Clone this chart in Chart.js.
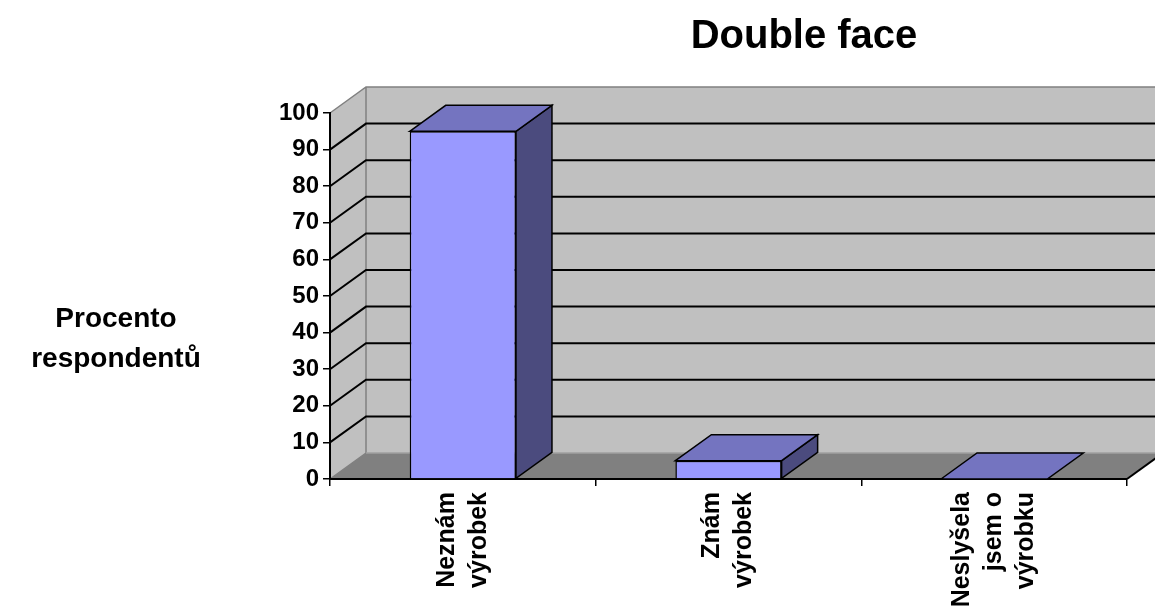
<!DOCTYPE html>
<html><head><meta charset="utf-8">
<script src="https://cdn.jsdelivr.net/npm/chart.js@4/dist/chart.umd.min.js"></script>
<style>html,body{margin:0;padding:0;background:#fff}canvas{display:block}</style>
</head><body>
<canvas id="c" width="1155" height="608"></canvas>
<script>
// ---- data ----
const TITLE = 'Double face';
const Y_TITLE = ['Procento', 'respondentů'];
const categories = [['Neznám', 'výrobek'], ['Znám', 'výrobek'], ['Neslyšela', 'jsem o', 'výrobku']];
const values = [95, 5, 0];
const Y_MIN = 0, Y_MAX = 100, Y_STEP = 10;

// ---- style ----
const FONT = '"Liberation Sans", Arial, Helvetica, sans-serif';
const DX = 36, DY = -26;            // 3D depth offset
const WALL = '#c0c0c0', FLOOR = '#808080', EDGE = '#808080';
const FRONT = '#9999ff', TOP = '#7474c0', SIDE = '#4b4b7e';

const threeD = {
  id: 'threeD',
  beforeDraw(chart) {
    const ctx = chart.ctx, a = chart.chartArea, ys = chart.scales.y;
    const L = a.left, R = a.right, T = a.top, B = a.bottom;
    ctx.save();
    ctx.fillStyle = WALL;
    ctx.fillRect(L + DX, T + DY, (R - L), (B - T));
    ctx.beginPath();
    ctx.moveTo(L, T); ctx.lineTo(L + DX, T + DY); ctx.lineTo(L + DX, B + DY); ctx.lineTo(L, B); ctx.closePath();
    ctx.fill();
    ctx.fillStyle = FLOOR;
    ctx.beginPath();
    ctx.moveTo(L, B); ctx.lineTo(R, B); ctx.lineTo(R + DX, B + DY); ctx.lineTo(L + DX, B + DY); ctx.closePath();
    ctx.fill();
    ctx.strokeStyle = EDGE; ctx.lineWidth = 1.5;
    ctx.beginPath();
    ctx.moveTo(L, T); ctx.lineTo(L + DX, T + DY); ctx.lineTo(R + DX + 10, T + DY);
    ctx.moveTo(L + DX, T + DY); ctx.lineTo(L + DX, B + DY);
    ctx.moveTo(L, B); ctx.lineTo(L + DX, B + DY);
    ctx.stroke();
    ctx.strokeStyle = '#a0a0a0';
    ctx.beginPath(); ctx.moveTo(L + DX, B + DY); ctx.lineTo(R + DX + 10, B + DY); ctx.stroke();
    ctx.strokeStyle = '#000'; ctx.lineWidth = 2;
    ys.ticks.forEach(t => {
      if (t.value <= Y_MIN || t.value >= Y_MAX) return;
      const y = ys.getPixelForValue(t.value);
      ctx.beginPath();
      ctx.moveTo(L, y); ctx.lineTo(L + DX, y + DY); ctx.lineTo(R + DX + 10, y + DY);
      ctx.stroke();
    });
    ctx.restore();
  },
  afterDatasetsDraw(chart) {
    const ctx = chart.ctx, a = chart.chartArea;
    const meta = chart.getDatasetMeta(0);
    ctx.save();
    ctx.lineWidth = 1.5; ctx.strokeStyle = '#000'; ctx.lineJoin = 'miter';
    meta.data.forEach(bar => {
      const p = bar.getProps(['x', 'y', 'base', 'width'], true);
      const x0 = p.x - p.width / 2, x1 = p.x + p.width / 2, top = p.y, bot = p.base;
      if (bot - top > 0.5) {
        ctx.fillStyle = SIDE;
        ctx.beginPath();
        ctx.moveTo(x1, top); ctx.lineTo(x1 + DX, top + DY); ctx.lineTo(x1 + DX, bot + DY); ctx.lineTo(x1, bot); ctx.closePath();
        ctx.fill(); ctx.stroke();
      }
      ctx.fillStyle = TOP;
      ctx.beginPath();
      ctx.moveTo(x0, top); ctx.lineTo(x0 + DX, top + DY); ctx.lineTo(x1 + DX, top + DY); ctx.lineTo(x1, top); ctx.closePath();
      ctx.fill(); ctx.stroke();
    });
    ctx.lineWidth = 2;
    ctx.beginPath(); ctx.moveTo(a.right, a.bottom); ctx.lineTo(a.right + DX, a.bottom + DY); ctx.stroke();
    ctx.restore();
  },
  afterDraw(chart) {
    const ctx = chart.ctx, xs = chart.scales.x, a = chart.chartArea;
    ctx.save();
    ctx.fillStyle = '#000';
    ctx.font = 'bold 25px ' + FONT;
    ctx.textAlign = 'right'; ctx.textBaseline = 'middle';
    const LH = 32;
    chart.data.labels.forEach((lab, i) => {
      const lines = Array.isArray(lab) ? lab : [lab];
      const cx = xs.getPixelForValue(i);
      lines.forEach((ln, j) => {
        const x = cx + (j - (lines.length - 1) / 2) * LH;
        ctx.save();
        ctx.translate(x, a.bottom + 13);
        ctx.rotate(-Math.PI / 2);
        ctx.fillText(ln, 0, 0);
        ctx.restore();
      });
    });
    ctx.font = 'bold 40px ' + FONT;
    ctx.textAlign = 'center'; ctx.textBaseline = 'alphabetic';
    ctx.fillText(TITLE, 804, 48);
    ctx.font = 'bold 28px ' + FONT;
    Y_TITLE.forEach((t, i) => ctx.fillText(t, 116, 327 + i * 40));
    ctx.restore();
  }
};

new Chart(document.getElementById('c'), {
  type: 'bar',
  data: {
    labels: categories,
    datasets: [{
      data: values,
      backgroundColor: FRONT,
      borderColor: '#000',
      borderWidth: 1.5,
      barPercentage: 0.4,
      categoryPercentage: 1.0
    }]
  },
  options: {
    responsive: false,
    animation: false,
    devicePixelRatio: 1,
    layout: { padding: { top: 113, right: 28, left: 0, bottom: 0 } },
    plugins: { legend: { display: false }, title: { display: false }, tooltip: { enabled: false } },
    scales: {
      x: {
        offset: true,
        grid: { display: true, offset: true, drawOnChartArea: false, drawTicks: true, tickLength: 7, color: '#000', lineWidth: 1.5 },
        border: { display: true, color: '#000', width: 2 },
        ticks: { display: false },
        afterFit(s) { s.height = 129; }
      },
      y: {
        min: Y_MIN, max: Y_MAX,
        grid: { display: true, drawOnChartArea: false, drawTicks: true, tickLength: 7, color: '#000', lineWidth: 1.5 },
        border: { display: true, color: '#000', width: 2 },
        ticks: { stepSize: Y_STEP, color: '#000', padding: 4, font: { family: FONT, size: 24, weight: 'bold' } },
        afterFit(s) { s.width = 330; }
      }
    }
  },
  plugins: [threeD]
});
</script>
</body></html>
